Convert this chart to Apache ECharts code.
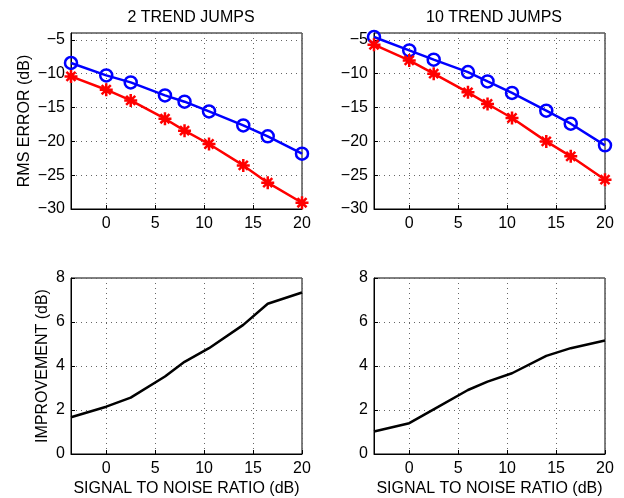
<!DOCTYPE html>
<html>
<head>
<meta charset="utf-8">
<script src="https://cdn.jsdelivr.net/npm/echarts@6/dist/echarts.min.js"></script>
<style>
  html, body { margin: 0; padding: 0; background: #fff; }
  #chart { width: 624px; height: 498px; }
</style>
</head>
<body>
<div id="chart"></div>
<script>
// SNR points (dB)
var snr = [-3.6, 0, 2.5, 6, 8, 10.5, 14, 16.5, 20];
var xTicks = [0, 5, 10, 15, 20];

// 2 trend jumps
var rms2Blue = [-8.43, -10.26, -11.30, -13.22, -14.15, -15.58, -17.65, -19.27, -21.83];
var rms2Red = [-10.41, -12.38, -13.96, -16.66, -18.43, -20.40, -23.56, -26.11, -29.07];
var imp2 = [1.67, 2.15, 2.56, 3.52, 4.19, 4.81, 5.87, 6.83, 7.34];

// 10 trend jumps
var rms10Blue = [-4.59, -6.57, -7.94, -9.77, -11.15, -12.86, -15.48, -17.40, -20.60];
var rms10Red = [-5.73, -8.05, -10.01, -12.77, -14.49, -16.56, -20.01, -22.22, -25.67];
var imp10 = [1.02, 1.40, 2.03, 2.91, 3.29, 3.67, 4.46, 4.81, 5.16];

var FONT = 'Liberation Sans';
var star = 'path://M0,-1L0,1M-1,0L1,0M-0.7,-0.7L0.7,0.7M-0.7,0.7L0.7,-0.7';

function minus(v) {
  return String(v).replace('-', '\u2212');
}

function pairs(xs, ys) {
  var out = [];
  for (var i = 0; i < xs.length; i++) out.push([xs[i], ys[i]]);
  return out;
}

function xAxisOf(idx, withName) {
  return {
    type: 'value', gridIndex: idx, min: -3.6, max: 20,
    name: withName ? 'SIGNAL TO NOISE RATIO (dB)' : '',
    nameLocation: 'middle', nameGap: 27,
    nameTextStyle: { fontFamily: FONT, fontSize: 16, color: '#000' },
    axisLine: { onZero: false, lineStyle: { color: '#000', width: 1 } },
    axisTick: { inside: true, length: 4, customValues: xTicks, lineStyle: { color: '#000' } },
    axisLabel: { customValues: xTicks, margin: 7, fontFamily: FONT, fontSize: 16, color: '#000', formatter: minus },
    splitLine: { show: true, lineStyle: { color: '#666', type: [1, 4], width: 1 } }
  };
}

function yAxisOf(idx, min, max, step, name, gap) {
  return {
    type: 'value', gridIndex: idx, min: min, max: max, interval: step,
    name: name, nameLocation: 'middle', nameGap: gap,
    nameTextStyle: { fontFamily: FONT, fontSize: 16, color: '#000' },
    axisLine: { onZero: false, lineStyle: { color: '#000', width: 1 } },
    axisTick: { inside: true, length: 4, lineStyle: { color: '#000' } },
    axisLabel: { margin: 6, fontFamily: FONT, fontSize: 16, color: '#000', formatter: minus, showMaxLabel: max % step === 0 },
    splitLine: { show: true, lineStyle: { color: '#666', type: [1, 4], width: 1 } }
  };
}

function gridOf(left, top) {
  return { left: left, top: top, width: 231, height: 176, show: true, borderColor: '#000', borderWidth: 1, backgroundColor: 'transparent' };
}

var chart = echarts.init(document.getElementById('chart'));
chart.setOption({
  animation: false,
  title: [
    { text: '2 TREND JUMPS', left: 186, top: 5, textAlign: 'center', textStyle: { fontFamily: FONT, fontSize: 16, fontWeight: 'normal', color: '#000' } },
    { text: '10 TREND JUMPS', left: 489, top: 5, textAlign: 'center', textStyle: { fontFamily: FONT, fontSize: 16, fontWeight: 'normal', color: '#000' } }
  ],
  grid: [gridOf(71, 33), gridOf(374, 33), gridOf(71, 278), gridOf(374, 278)],
  xAxis: [xAxisOf(0, false), xAxisOf(1, false), xAxisOf(2, true), xAxisOf(3, true)],
  yAxis: [
    yAxisOf(0, -30, -4, 5, 'RMS ERROR (dB)', 38),
    yAxisOf(1, -30, -4, 5, '', 38),
    yAxisOf(2, 0, 8, 2, 'IMPROVEMENT (dB)', 20),
    yAxisOf(3, 0, 8, 2, '', 20)
  ],
  series: [
    { type: 'line', xAxisIndex: 0, yAxisIndex: 0, data: pairs(snr, rms2Blue), symbol: 'circle', symbolSize: 12,
      lineStyle: { color: '#0000ff', width: 2.5 }, itemStyle: { color: 'transparent', borderColor: '#0000ff', borderWidth: 2.5 } },
    { type: 'line', xAxisIndex: 0, yAxisIndex: 0, data: pairs(snr, rms2Red), symbol: star, symbolSize: 13,
      lineStyle: { color: '#ff0000', width: 2.5 }, itemStyle: { color: '#ff0000', borderColor: '#ff0000', borderWidth: 2.5 } },
    { type: 'line', xAxisIndex: 1, yAxisIndex: 1, data: pairs(snr, rms10Blue), symbol: 'circle', symbolSize: 12,
      lineStyle: { color: '#0000ff', width: 2.5 }, itemStyle: { color: 'transparent', borderColor: '#0000ff', borderWidth: 2.5 } },
    { type: 'line', xAxisIndex: 1, yAxisIndex: 1, data: pairs(snr, rms10Red), symbol: star, symbolSize: 13,
      lineStyle: { color: '#ff0000', width: 2.5 }, itemStyle: { color: '#ff0000', borderColor: '#ff0000', borderWidth: 2.5 } },
    { type: 'line', xAxisIndex: 2, yAxisIndex: 2, data: pairs(snr, imp2), showSymbol: false,
      lineStyle: { color: '#000', width: 2.5 } },
    { type: 'line', xAxisIndex: 3, yAxisIndex: 3, data: pairs(snr, imp10), showSymbol: false,
      lineStyle: { color: '#000', width: 2.5 } }
  ]
});
</script>
</body>
</html>
